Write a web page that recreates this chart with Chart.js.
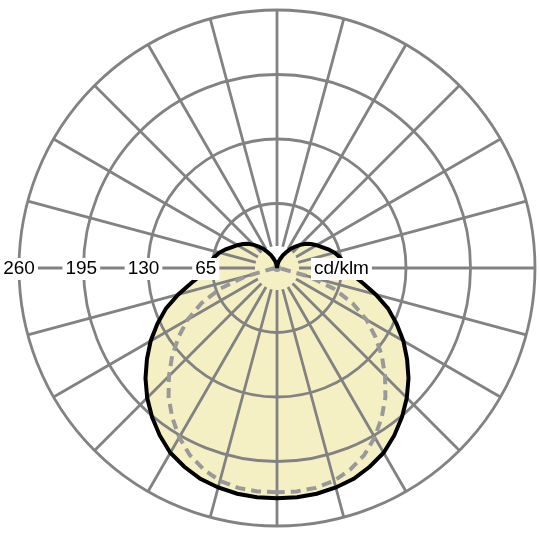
<!DOCTYPE html>
<html>
<head>
<meta charset="utf-8">
<title>Light distribution</title>
<script src="https://cdn.jsdelivr.net/npm/chart.js@4.4.1/dist/chart.umd.min.js"></script>
<style>
    html, body { margin: 0; padding: 0; background: #fff; }
    #wrap { width: 540px; height: 540px; position: relative; }
</style>
</head>
<body>
<div id="wrap"><canvas id="ldc-chart"></canvas></div>
<script>
// Half-plane angles (degrees from nadir), the other half is mirrored
const halfAngles = [0, 5, 10, 15, 20, 25, 30, 35, 40, 45, 50, 55, 60, 65, 70, 75, 80, 85, 90,
    95, 100, 105, 110, 115, 120, 125, 130, 135, 140, 145, 150, 155, 160, 165, 170, 175, 180];

// C0-C180 plane (solid)
const solidHalf = [232, 232, 231, 229, 226, 221, 215, 206, 196, 185, 173, 160, 147, 133, 119, 103, 88, 76, 71,
    68, 64, 60, 55, 50, 46, 42, 38, 33, 28, 23, 18, 14, 10, 7, 4, 2, 0];

// C90-C270 plane (dashed)
const dashedHalf = [226, 226, 225, 222, 216, 208, 197, 184, 170, 154, 138, 121, 104, 84, 61, 33, 6, 1, 0,
    0, 0, 0, 0, 0, 0, 0, 0, 0, 0, 0, 0, 0, 0, 0, 0, 0, 0];

const ringTicks = [65, 130, 195, 260];
const unitLabel = 'cd/klm';

// full circle, index 0 at nadir, going round
const fullAngles = [];
for (let i = 0; i < 72; i++) fullAngles.push(i * 5);
const mirror = half => fullAngles.map(a => a <= 180 ? half[a / 5] : half[(360 - a) / 5]);

const GRID = '#828282';

// tick labels along the horizontal axis, on top of everything
const axisLabels = {
    id: 'axisLabels',
    afterDraw(chart) {
        const r = chart.scales.r;
        const ctx = chart.ctx;
        const y = r.yCenter + 1;
        const items = ringTicks.map(v => ({
            text: String(v),
            x: r.xCenter - (r.getDistanceFromCenterForValue(v) * 0.965 + 9)
        }));
        items.push({ text: unitLabel, x: r.xCenter + r.getDistanceFromCenterForValue(ringTicks[0]) });

        ctx.save();
        ctx.font = '19px "Liberation Sans", Arial, sans-serif';
        ctx.textAlign = 'center';
        ctx.textBaseline = 'middle';
        items.forEach(it => {
            const w = ctx.measureText(it.text).width;
            ctx.fillStyle = '#fff';
            ctx.fillRect(it.x - w / 2 - 3, y - 11, w + 6, 22);
            ctx.fillStyle = '#000';
            ctx.fillText(it.text, it.x, y);
        });
        ctx.restore();
    }
};

new Chart(document.getElementById('ldc-chart'), {
    type: 'radar',
    data: {
        labels: fullAngles.map(a => a + '°'),
        datasets: [
            {
                label: 'C0-C180',
                data: mirror(solidHalf),
                borderColor: '#000',
                borderWidth: 4,
                backgroundColor: '#f5f0c4',
                fill: true,
                pointRadius: 0,
                tension: 0
            },
            {
                label: 'C90-C270',
                data: mirror(dashedHalf),
                borderColor: '#999999',
                borderWidth: 4,
                borderDash: [10, 6],
                fill: false,
                pointRadius: c => c.dataIndex === 36 ? 4 : 0,
                pointBackgroundColor: '#999999',
                pointBorderWidth: 0,
                tension: 0
            }
        ]
    },
    options: {
        responsive: true,
        maintainAspectRatio: false,
        animation: false,
        layout: { padding: { left: 19, right: 5, top: 10, bottom: 14 } },
        plugins: {
            legend: { display: false },
            tooltip: { enabled: false },
            filler: { drawTime: 'beforeDraw' }
        },
        scales: {
            r: {
                min: 0,
                max: 260,
                startAngle: 180,
                ticks: { display: false, stepSize: 65 },
                pointLabels: { display: false },
                grid: { circular: true, color: GRID, lineWidth: 2.8 },
                angleLines: {
                    color: GRID,
                    lineWidth: c => c.index % 3 === 0 ? 2.8 : 0,
                    borderDash: [0, 22, 1000]
                }
            }
        }
    },
    plugins: [axisLabels]
});
</script>
</body>
</html>
